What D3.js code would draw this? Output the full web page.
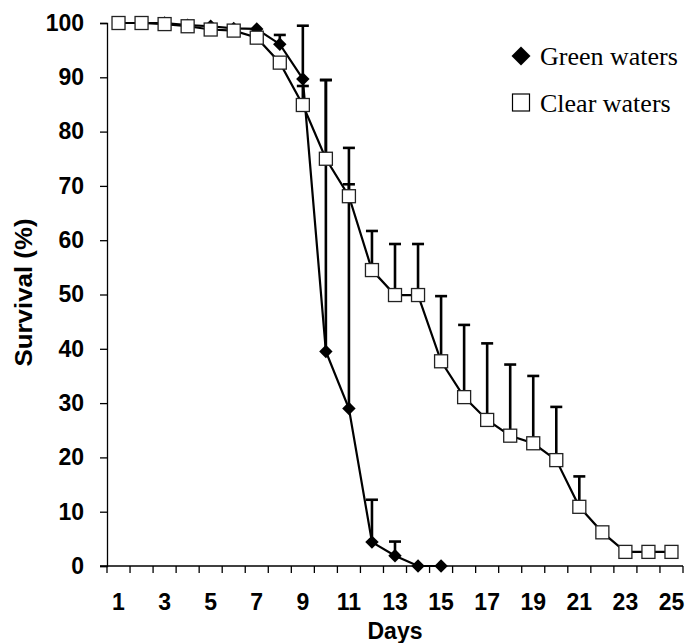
<!DOCTYPE html>
<html>
<head>
<meta charset="utf-8">
<script src="https://cdn.jsdelivr.net/npm/d3@7"></script>
<style>
  html, body { margin: 0; padding: 0; background: #fff; }
  svg { display: block; }
</style>
</head>
<body>
<svg id="chart" width="686" height="643"></svg>
<script>
// ---- data ----
const days = d3.range(1, 26);
const dayTickLabels = [1, 3, 5, 7, 9, 11, 13, 15, 17, 19, 21, 23, 25];
const yTicks = [0, 10, 20, 30, 40, 50, 60, 70, 80, 90, 100];

const greenDays = d3.range(1, 16);
const greenValues = [100, 100, 100, 99.6, 99.4, 99, 98.9, 96.1, 89.7, 39.5, 29, 4.4, 1.9, 0, 0];
const greenErr    = [0, 0, 0, 0, 0, 0, 0, 1.7, 9.8, 50, 41.3, 7.8, 2.6, 0, 0];

const clearDays = d3.range(1, 26);
const clearValues = [100, 100, 99.8, 99.4, 98.8, 98.6, 97.3, 92.7, 84.9, 75, 68.1, 54.5, 49.9, 49.9,
                     37.7, 31.1, 26.9, 24, 22.6, 19.5, 10.9, 6.2, 2.6, 2.6, 2.6];
const clearErr    = [0, 0, 0, 0, 0, 0, 0, 0, 3.5, 14.5, 8.9, 7.2, 9.4, 9.4,
                     12, 13.3, 14.1, 13.1, 12.4, 9.8, 5.6, 0, 0, 0, 0];

const legendLabels = ["Green waters", "Clear waters"];

// ---- layout ----
const svg = d3.select("#chart");
const plotLeft = 107, plotRight = 683, plotTop = 23, plotBottom = 566;

const x = d3.scaleBand().domain(days).range([plotLeft, plotRight]).padding(0);
const cx = d => x(d) + x.bandwidth() / 2;
const y = d3.scaleLinear().domain([0, 100]).range([plotBottom, plotTop]);

const axisFont = "'Liberation Sans', Arial, sans-serif";
const fs = 23;

// Y axis
const yAxis = d3.axisLeft(y).tickValues(yTicks).tickSize(7).tickPadding(16).tickFormat(d3.format("d"));
const gy = svg.append("g").attr("transform", `translate(${plotLeft},0)`).call(yAxis);
gy.select(".domain").attr("stroke", "#000").attr("stroke-width", 1.3);
gy.selectAll(".tick line").attr("stroke", "#000").attr("stroke-width", 1.3);
gy.selectAll(".tick text").attr("font-family", axisFont).attr("font-weight", "bold")
  .attr("font-size", fs).attr("fill", "#000");

// X axis line
svg.append("line").attr("x1", plotLeft - 7).attr("x2", plotRight).attr("y1", y(0)).attr("y2", y(0))
  .attr("stroke", "#000").attr("stroke-width", 1.3);
// X ticks at band boundaries
const boundaries = days.map(d => x(d)).concat([x(25) + x.bandwidth()]);
svg.append("g").selectAll("line").data(boundaries).join("line")
  .attr("x1", d => d).attr("x2", d => d).attr("y1", y(0)).attr("y2", y(0) + 7)
  .attr("stroke", "#000").attr("stroke-width", 1.3);
// X tick labels
svg.append("g").selectAll("text").data(dayTickLabels).join("text")
  .attr("x", d => cx(d)).attr("y", 610).attr("text-anchor", "middle")
  .attr("font-family", axisFont).attr("font-weight", "bold").attr("font-size", fs)
  .text(d => d);

// Axis titles
svg.append("text").attr("x", (plotLeft + plotRight) / 2).attr("y", 639).attr("text-anchor", "middle")
  .attr("font-family", axisFont).attr("font-weight", "bold").attr("font-size", fs).text("Days");
svg.append("text").attr("transform", `translate(32,292.5) rotate(-90)`)
  .attr("text-anchor", "middle").attr("textLength", 148).attr("lengthAdjust", "spacingAndGlyphs")
  .attr("font-family", axisFont).attr("font-weight", "bold").attr("font-size", fs).text("Survival (%)");

// ---- series ----
const greenData = greenDays.map((d, i) => ({ d, v: greenValues[i], e: greenErr[i] }));
const clearData = clearDays.map((d, i) => ({ d, v: clearValues[i], e: clearErr[i] }));

function errorBars(data) {
  const g = svg.append("g");
  const eb = data.filter(p => p.e > 0);
  g.selectAll("line.v").data(eb).join("line").attr("class", "v")
    .attr("x1", p => cx(p.d)).attr("x2", p => cx(p.d))
    .attr("y1", p => y(p.v)).attr("y2", p => y(p.v + p.e))
    .attr("stroke", "#000").attr("stroke-width", 2.6);
  g.selectAll("line.c").data(eb).join("line").attr("class", "c")
    .attr("x1", p => cx(p.d) - 6).attr("x2", p => cx(p.d) + 6)
    .attr("y1", p => y(p.v + p.e)).attr("y2", p => y(p.v + p.e))
    .attr("stroke", "#000").attr("stroke-width", 2.6);
}

const line = d3.line().x(p => cx(p.d)).y(p => y(p.v));

errorBars(greenData);
errorBars(clearData);

// green line + diamonds
svg.append("path").datum(greenData).attr("d", line)
  .attr("fill", "none").attr("stroke", "#000").attr("stroke-width", 2.2);
svg.append("g").selectAll("path").data(greenData).join("path")
  .attr("transform", p => `translate(${cx(p.d)},${y(p.v)}) rotate(45)`)
  .attr("d", d3.symbol().type(d3.symbolSquare).size(90))
  .attr("fill", "#000");

// clear line + squares
svg.append("path").datum(clearData).attr("d", line)
  .attr("fill", "none").attr("stroke", "#000").attr("stroke-width", 2.2);
svg.append("g").selectAll("rect").data(clearData).join("rect")
  .attr("x", p => cx(p.d) - 6.5).attr("y", p => y(p.v) - 6.5)
  .attr("width", 13).attr("height", 13)
  .attr("fill", "#fff").attr("stroke", "#222").attr("stroke-width", 1.3);

// ---- legend ----
const legFont = "'Liberation Serif', 'Times New Roman', serif";
const lg = svg.append("g");
lg.append("path").attr("transform", "translate(521,56) rotate(45)")
  .attr("d", d3.symbol().type(d3.symbolSquare).size(180)).attr("fill", "#000");
lg.append("rect").attr("x", 512.5).attr("y", 94).attr("width", 17).attr("height", 17)
  .attr("fill", "#fff").attr("stroke", "#000").attr("stroke-width", 1.2);
lg.selectAll("text").data(legendLabels).join("text")
  .attr("x", 540).attr("y", (d, i) => 65 + i * 46.7)
  .attr("font-family", legFont).attr("font-size", 26).text(d => d);
</script>
</body>
</html>
